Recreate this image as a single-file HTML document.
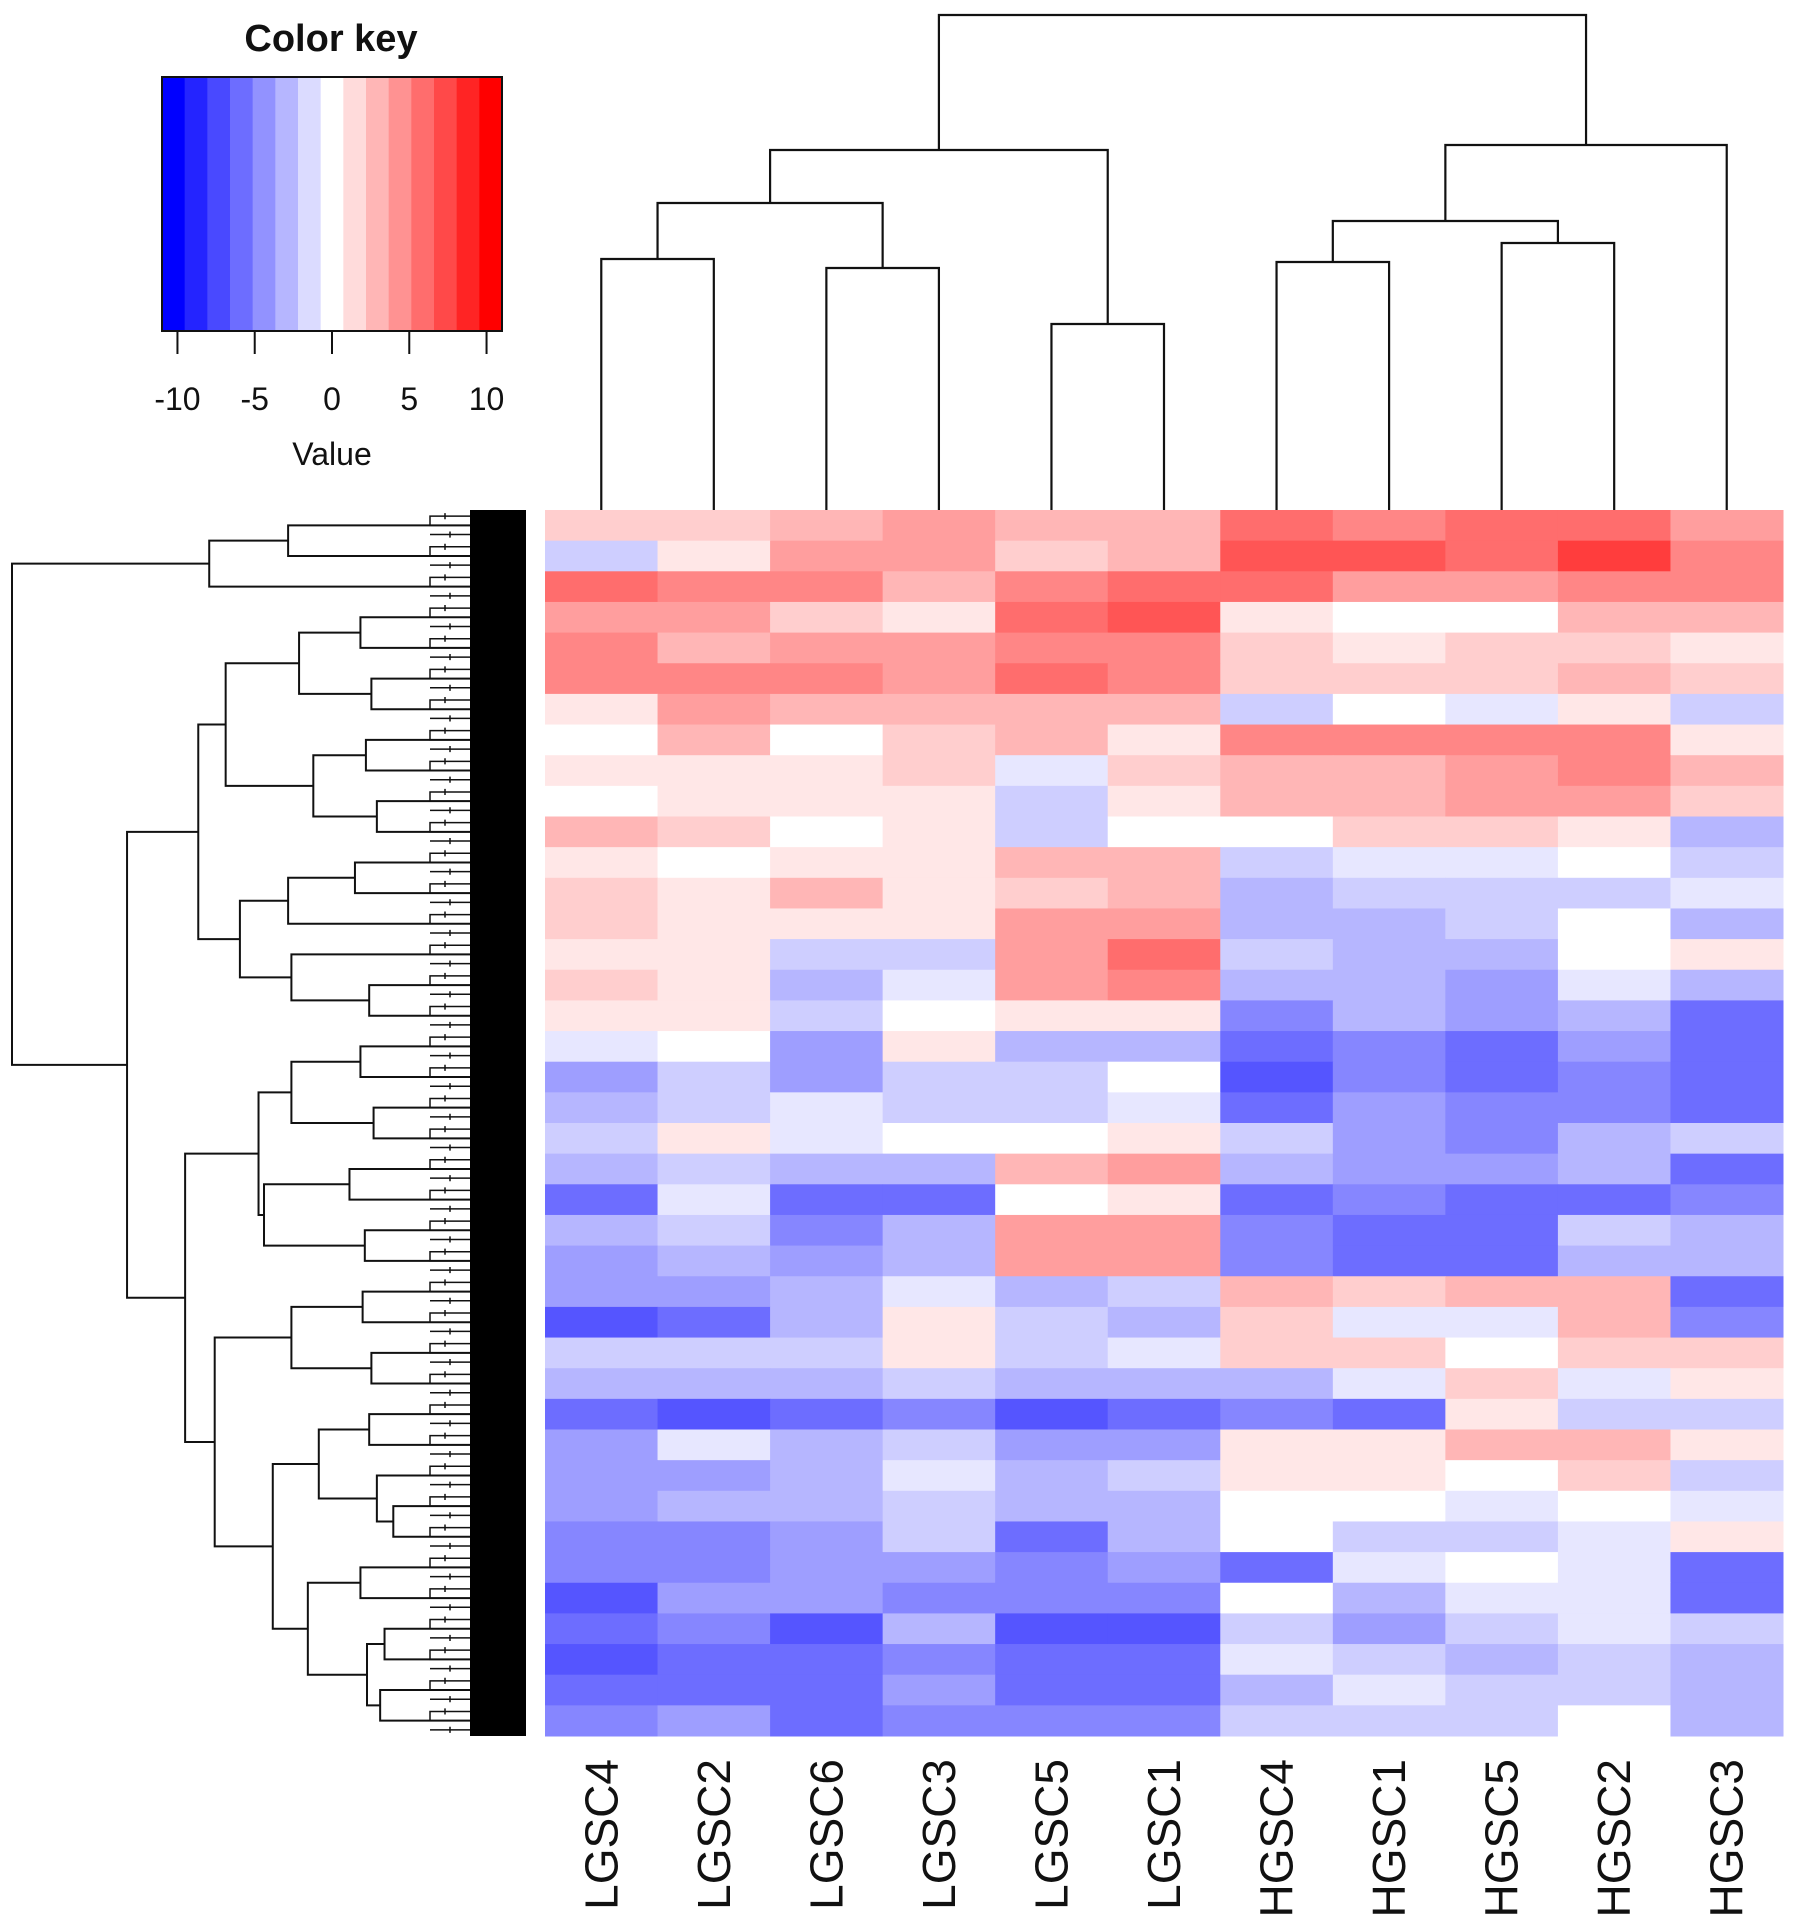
<!DOCTYPE html>
<html><head><meta charset="utf-8">
<style>
html,body{margin:0;padding:0;background:#fff;}
svg{display:block;}
text{font-family:"Liberation Sans",Arial,sans-serif;fill:#111;}
</style></head>
<body>
<svg id="chart" width="1795" height="1924" viewBox="0 0 1795 1924" xmlns="http://www.w3.org/2000/svg">
  <g id="key"></g>
  <g id="coldendro"></g>
  <g id="rowdendro"></g>
  <g id="heat"></g>
  <g id="labels"></g>
</svg>
<script>
const columns = ["LGSC4","LGSC2","LGSC6","LGSC3","LGSC5","LGSC1","HGSC4","HGSC1","HGSC5","HGSC2","HGSC3"];
const keyTicks = [-10,-5,0,5,10];
const rowBands = [
[2,2,3,4,3,3,6,5,6,6,4],
[-2,1,4,4,2,3,7,7,6,8,5],
[6,5,5,3,5,6,6,4,4,5,5],
[4,4,2,1,6,7,1,0,0,3,3],
[5,3,4,4,5,5,2,1,2,2,1],
[5,5,5,4,6,5,2,2,2,3,2],
[1,4,3,3,3,3,-2,0,-1,1,-2],
[0,3,0,2,3,1,5,5,5,5,1],
[1,1,1,2,-1,2,3,3,4,5,3],
[0,1,1,1,-2,1,3,3,4,4,2],
[3,2,0,1,-2,0,0,2,2,1,-3],
[1,0,1,1,3,3,-2,-1,-1,0,-2],
[2,1,3,1,2,3,-3,-2,-2,-2,-1],
[2,1,1,1,4,4,-3,-3,-2,0,-3],
[1,1,-2,-2,4,6,-2,-3,-3,0,1],
[2,1,-3,-1,4,5,-3,-3,-4,-1,-3],
[1,1,-2,0,1,1,-5,-3,-4,-3,-6],
[-1,0,-4,1,-3,-3,-6,-5,-6,-4,-6],
[-4,-2,-4,-2,-2,0,-7,-5,-6,-5,-6],
[-3,-2,-1,-2,-2,-1,-6,-4,-5,-5,-6],
[-2,1,-1,0,0,1,-2,-4,-5,-3,-2],
[-3,-2,-3,-3,3,4,-3,-4,-4,-3,-6],
[-6,-1,-6,-6,0,1,-6,-5,-6,-6,-5],
[-3,-2,-5,-3,4,4,-5,-6,-6,-2,-3],
[-4,-3,-4,-3,4,4,-5,-6,-6,-3,-3],
[-4,-4,-3,-1,-3,-2,3,2,3,3,-6],
[-7,-6,-3,1,-2,-3,2,-1,-1,3,-5],
[-2,-2,-2,1,-2,-1,2,2,0,2,2],
[-3,-3,-3,-2,-3,-3,-3,-1,2,-1,1],
[-6,-7,-6,-5,-7,-6,-5,-6,1,-2,-2],
[-4,-1,-3,-2,-4,-4,1,1,3,3,1],
[-4,-4,-3,-1,-3,-2,1,1,0,2,-2],
[-4,-3,-3,-2,-3,-3,0,0,-1,0,-1],
[-5,-5,-4,-2,-6,-3,0,-2,-2,-1,1],
[-5,-5,-4,-4,-5,-4,-6,-1,0,-1,-6],
[-7,-4,-4,-5,-5,-5,0,-3,-1,-1,-6],
[-6,-5,-7,-3,-7,-7,-2,-4,-2,-1,-2],
[-7,-6,-6,-5,-6,-6,-1,-2,-3,-2,-3],
[-6,-6,-6,-4,-6,-6,-3,-1,-2,-2,-3],
[-5,-4,-6,-5,-5,-5,-2,-2,-2,0,-3]
];
// column dendrogram: [height, left, right], leaves = column index
const colTree = [495,[360,[307,[251,0,1],[242,2,3]],[186,4,5]],[365,[289,[248,6,7],[267,8,9]],10]];
// row dendrogram: [height, left, right], leaves = band index
const rowTree = [418,
  [238,[166,0,1],2],
  [313,
    [248,
      [223,[156,[100,3,4],[90,5,6]],[143,[95,7,8],[85,9,10]]],
      [210,[166,[105,11,12],13],[163,14,[92,15,16]]]],
    [260,
      [193,[163,[100,17,18],[88,19,20]],[188,[110,21,22],[96,23,24]]],
      [233,[163,[98,25,26],[90,27,28]],
        [180,[138,[92,29,30],[85,31,[70,32,33]]],[148,[100,34,35],[94,[78,36,37],[82,38,39]]]]]]]];

const NS="http://www.w3.org/2000/svg";
const HX0=545, HX1=1783, HY0=510, HY1=1736;
const colW=(HX1-HX0)/columns.length;
const rowH=(HY1-HY0)/rowBands.length;
function xCol(i){return HX0+colW*i;}
function yRow(i){return HY0+rowH*i;}
const KV0=-11, KV1=11, NB=15;
function binColor(v){
  let k=Math.floor((v-KV0)/(KV1-KV0)*NB); k=Math.max(0,Math.min(NB-1,k));
  const mid=(NB-1)/2;
  if(k<mid){const t=(mid-k)/mid;const c=Math.round(255*(1-t));return `rgb(${c},${c},255)`;}
  if(k>mid){const t=(k-mid)/mid;const c=Math.round(255*(1-t));return `rgb(255,${c},${c})`;}
  return "#fff";
}
function contColor(v){
  const t=Math.min(1,Math.abs(v)/10.5); const c=Math.round(255*(1-t));
  return v<0?`rgb(${c},${c},255)`:`rgb(255,${c},${c})`;
}
function mk(tag,attrs,parent){const e=document.createElementNS(NS,tag);for(const a in attrs)e.setAttribute(a,attrs[a]);parent.appendChild(e);return e;}

// heatmap
const heat=document.getElementById('heat');
rowBands.forEach((row,r)=>{row.forEach((v,c)=>{
  const e=mk('rect',{x:xCol(c),y:yRow(r),width:colW+0.5,height:rowH+0.5,fill:contColor(v)},heat);
  
  
});});

// labels
const labels=document.getElementById('labels');
columns.forEach((n,i)=>{
  const cx=xCol(i)+colW/2+16, y=1759;
  const t=mk('text',{x:cx,y:y,transform:`rotate(-90 ${cx} ${y})`,'text-anchor':'end','font-size':46},labels);
  t.textContent=n;
  
  
});

// column dendrogram
const cd=document.getElementById('coldendro');
function colY(h){return HY0-h;}
function drawCol(node){
  if(typeof node==='number') return {x:xCol(node)+colW/2,y:HY0};
  const a=drawCol(node[1]), b=drawCol(node[2]); const y=colY(node[0]);
  const p=mk('path',{d:`M${a.x},${a.y}V${y}H${b.x}V${b.y}`,fill:'none',stroke:'#111','stroke-width':2.2},cd);
  
  
  return {x:(a.x+b.x)/2,y:y};
}
drawCol(colTree);

// row dendrogram
const rd=document.getElementById('rowdendro');
const RX1=470, rk=(RX1-12)/418;
function rowX(h){return RX1-h*rk;}
function drawRow(node){
  if(typeof node==='number') return {x:RX1,y:yRow(node)+rowH/2};
  const a=drawRow(node[1]), b=drawRow(node[2]); const x=rowX(node[0]);
  const p=mk('path',{d:`M${a.x},${a.y}H${x}V${b.y}H${b.x}`,fill:'none',stroke:'#111','stroke-width':2},rd);
  
  
  return {x:x,y:(a.y+b.y)/2};
}
drawRow(rowTree);
// dense leaf twigs
for(let i=0;i<rowBands.length;i++){
  const y0=yRow(i);
  const d=`M${RX1},${y0+rowH*0.5}H${RX1-40}V${y0+rowH*0.2}H${RX1}M${RX1-40},${y0+rowH*0.8}H${RX1}M${RX1-25},${y0+rowH*0.1}V${y0+rowH*0.3}M${RX1-20},${y0+rowH*0.7}V${y0+rowH*0.9}`;
  const p=mk('path',{d:d,fill:'none',stroke:'#111','stroke-width':1.5},rd);
  
  
}
const blk=mk('rect',{x:RX1,y:HY0,width:526-RX1,height:HY1-HY0,fill:'#000'},rd);



// color key
const key=document.getElementById('key');
const KX0=162, KX1=502, KY0=77, KY1=331;
function keyX(v){return KX0+(v-KV0)/(KV1-KV0)*(KX1-KX0);}
for(let k=0;k<NB;k++){
  const v0=KV0+(KV1-KV0)*k/NB, v1=KV0+(KV1-KV0)*(k+1)/NB;
  const r=mk('rect',{x:keyX(v0),y:KY0,width:keyX(v1)-keyX(v0)+0.5,height:KY1-KY0,fill:binColor((v0+v1)/2)},key);
  
  
}
const kb=mk('rect',{x:KX0,y:KY0,width:KX1-KX0,height:KY1-KY0,fill:'none',stroke:'#111','stroke-width':2},key);


const kax=mk('line',{x1:KX0,x2:KX1,y1:KY1,y2:KY1,stroke:'#111','stroke-width':2},key);


keyTicks.forEach(v=>{
  const x=keyX(v);
  const l=mk('line',{x1:x,x2:x,y1:KY1,y2:KY1+23,stroke:'#111','stroke-width':2},key);
  
  
  const t=mk('text',{x:x,y:410,'text-anchor':'middle','font-size':32},key);
  t.textContent=String(v);
  
  
});
const vt=mk('text',{x:332,y:465,'text-anchor':'middle','font-size':32},key);
vt.textContent='Value';


const tt=mk('text',{x:331,y:51,'text-anchor':'middle','font-size':38,'font-weight':'bold'},key);
tt.textContent='Color key';


</script>
</body></html>
